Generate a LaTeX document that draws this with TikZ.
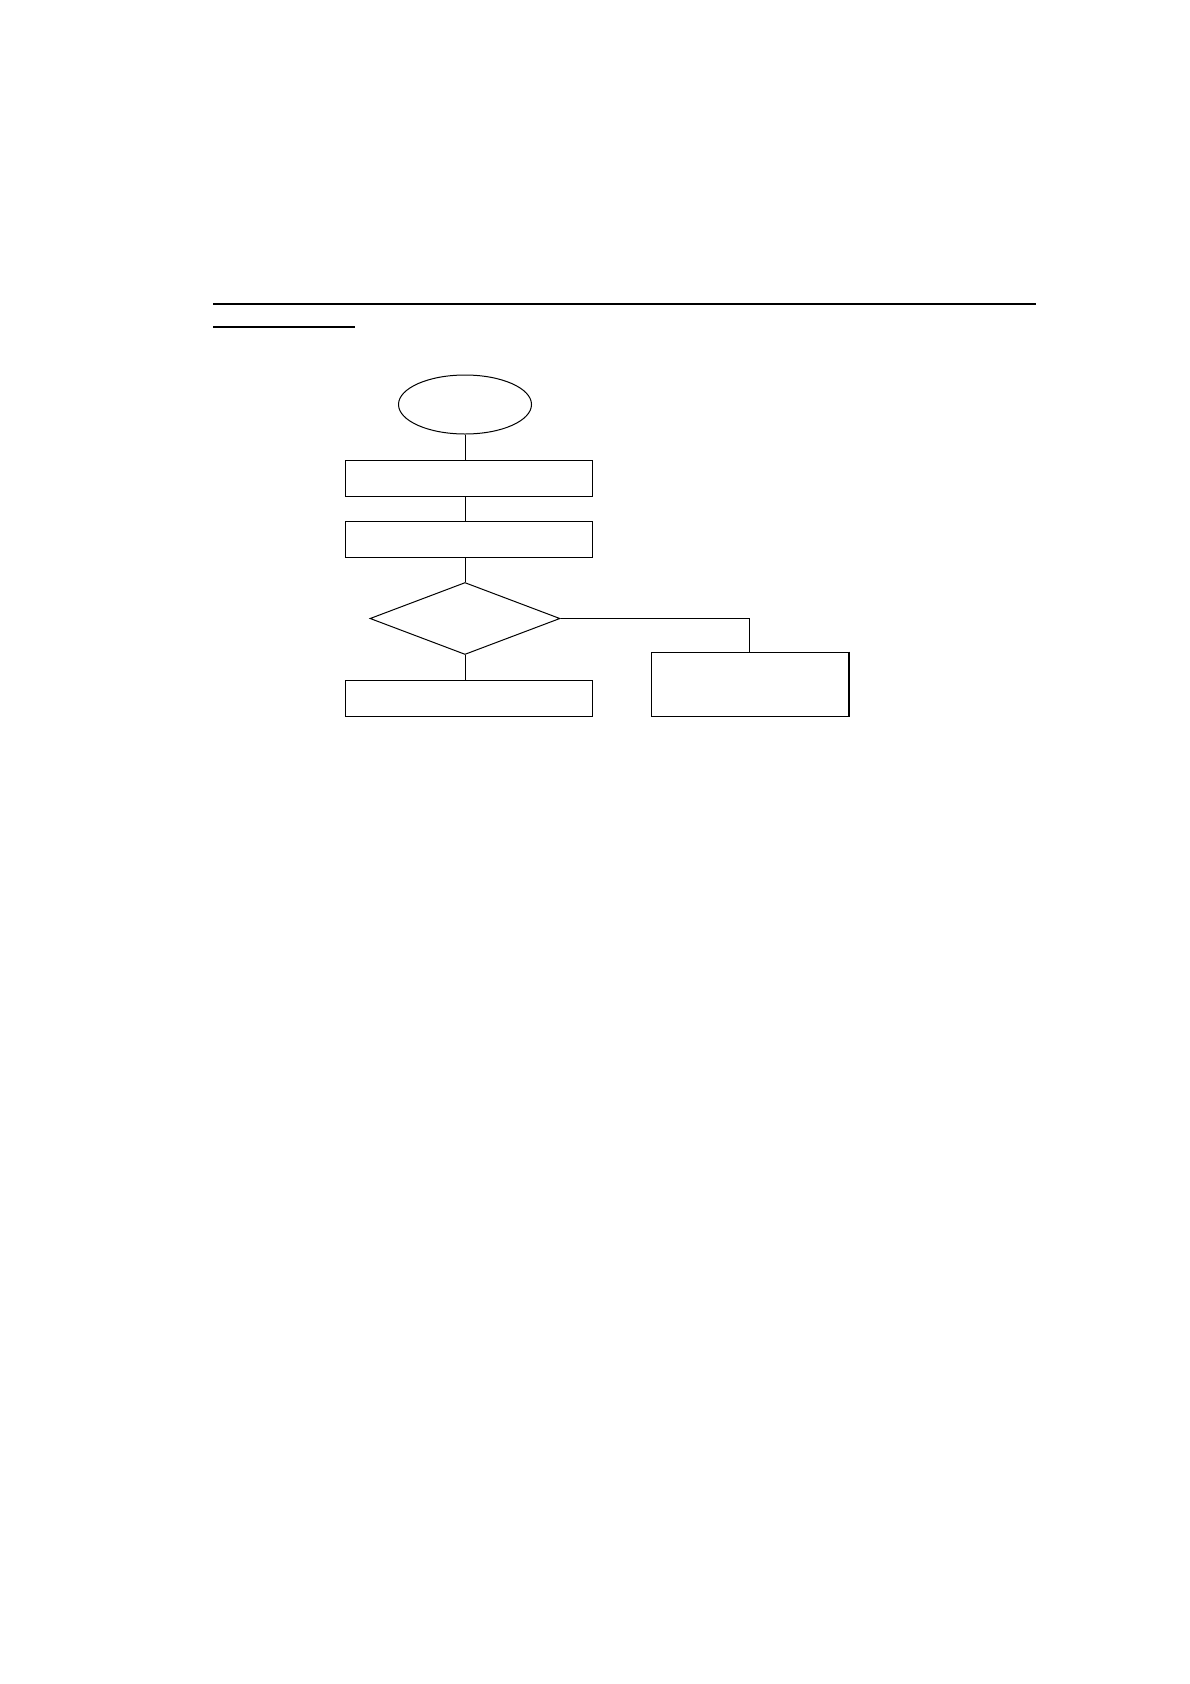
\documentclass[tikz,border=0pt]{standalone}
\usetikzlibrary{shapes.geometric}

\begin{document}
\begin{tikzpicture}
    [
        x=1pt, y=-1pt,
        terminal/.style={ellipse, draw=black, line width=1pt, inner sep=0pt, minimum width=133pt, minimum height=59pt},
        process/.style={rectangle, draw=black, line width=1pt, inner sep=0pt, minimum width=247pt, minimum height=36pt},
        decision/.style={diamond, draw=black, line width=1pt, inner sep=0pt, minimum width=190pt, minimum height=72pt},
        link/.style={draw=black, line width=1pt},
    ]
    \useasboundingbox (0,0) rectangle (1190,1684);
    % heading rules
    \draw[line width=2pt] (213,304) -- (1036,304);
    \draw[line width=1.3pt] (213,327) -- (355,327);
    % flow
    \node (start) at (465,404.5) [terminal] {};
    \node (step one) at (468.5,478) [process] {};
    \node (step two) at (468.5,539) [process] {};
    \node (check) at (465,618.5) [decision] {};
    \node (step three) at (468.5,698) [process] {};
    \node (branch) at (749.5,684) [process, minimum width=197pt, minimum height=64pt] {};
    \draw[line width=2pt] (branch.north east) -- (branch.south east);
    \draw[link] (start.south) -- (start.south |- step one.north);
    \draw[link] (start.south |- step one.south) -- (start.south |- step two.north);
    \draw[link] (start.south |- step two.south) -- (check.north);
    \draw[link] (check.south) -- (check.south |- step three.north);
    \draw[link] (check.east) -| (branch.north);
\end{tikzpicture}
\end{document}
